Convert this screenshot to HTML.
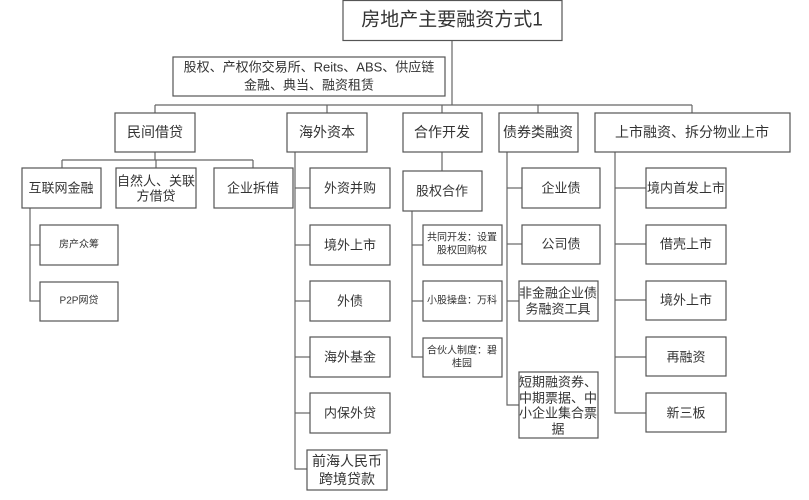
<!DOCTYPE html>
<html><head><meta charset="utf-8"><style>
html,body{margin:0;padding:0;background:#fff;}
svg{display:block;}
text{font-family:"Liberation Sans","Noto Sans CJK SC",sans-serif;fill:#333;text-anchor:middle;dominant-baseline:central;}
rect{fill:#fff;stroke:#555;stroke-width:1.2;}
line,polyline{stroke:#666;stroke-width:1.2;fill:none;}
</style></head><body>
<svg width="809" height="500" viewBox="0 0 809 500" xmlns="http://www.w3.org/2000/svg">
<!-- connectors -->
<line x1="452" y1="40" x2="452" y2="105"/>
<line x1="155" y1="105" x2="692" y2="105"/>
<line x1="155" y1="105" x2="155" y2="113"/>
<line x1="327" y1="105" x2="327" y2="113"/>
<line x1="442" y1="105" x2="442" y2="113"/>
<line x1="538" y1="105" x2="538" y2="113"/>
<line x1="692" y1="105" x2="692" y2="113"/>
<!-- 民间 -->
<line x1="155" y1="152" x2="155" y2="160"/>
<line x1="62" y1="160" x2="253" y2="160"/>
<line x1="62" y1="160" x2="62" y2="168"/>
<line x1="156" y1="160" x2="156" y2="168"/>
<line x1="253" y1="160" x2="253" y2="168"/>
<polyline points="30,208 30,301 40,301"/>
<line x1="30" y1="245" x2="40" y2="245"/>
<!-- 海外 -->
<polyline points="295,152 295,469 307,469"/>
<line x1="295" y1="188" x2="310" y2="188"/>
<line x1="295" y1="245" x2="310" y2="245"/>
<line x1="295" y1="301" x2="310" y2="301"/>
<line x1="295" y1="357" x2="310" y2="357"/>
<line x1="295" y1="413" x2="310" y2="413"/>
<!-- 合作 -->
<line x1="442" y1="152" x2="442" y2="171"/>
<polyline points="412,211 412,357 423,357"/>
<line x1="412" y1="245" x2="423" y2="245"/>
<line x1="412" y1="301" x2="423" y2="301"/>
<!-- 债券 -->
<polyline points="507,152 507,405 519,405"/>
<line x1="507" y1="188" x2="522" y2="188"/>
<line x1="507" y1="244" x2="522" y2="244"/>
<line x1="507" y1="301" x2="519" y2="301"/>
<!-- 上市 -->
<polyline points="615,152 615,413 646,413"/>
<line x1="615" y1="188" x2="646" y2="188"/>
<line x1="615" y1="244" x2="646" y2="244"/>
<line x1="615" y1="300" x2="646" y2="300"/>
<line x1="615" y1="357" x2="646" y2="357"/>

<!-- boxes -->
<rect x="343" y="0.5" width="219" height="40"/>
<text x="452" y="20" font-size="19">房地产主要融资方式1</text>
<rect x="173" y="57" width="272" height="39"/>
<text x="309" y="67" font-size="13">股权、产权你交易所、Reits、ABS、供应链</text>
<text x="309" y="85" font-size="13">金融、典当、融资租赁</text>

<rect x="115" y="113" width="80" height="39"/><text x="155" y="132" font-size="14">民间借贷</text>
<rect x="287" y="113" width="80" height="39"/><text x="327" y="132" font-size="14">海外资本</text>
<rect x="403" y="113" width="79" height="39"/><text x="442" y="132" font-size="14">合作开发</text>
<rect x="499" y="113" width="79" height="39"/><text x="538" y="132" font-size="14">债券类融资</text>
<rect x="595" y="113" width="195" height="39"/><text x="692" y="132" font-size="14">上市融资、拆分物业上市</text>

<rect x="22" y="168" width="79" height="40"/><text x="61" y="188" font-size="13">互联网金融</text>
<rect x="116" y="168" width="80" height="40"/><text x="156" y="181" font-size="13">自然人、关联</text><text x="156" y="196" font-size="13">方借贷</text>
<rect x="214" y="168" width="79" height="40"/><text x="253" y="188" font-size="13">企业拆借</text>
<rect x="40" y="225" width="78" height="40"/><text x="79" y="245" font-size="10">房产众筹</text>
<rect x="40" y="282" width="78" height="39"/><text x="79" y="301" font-size="10">P2P网贷</text>

<rect x="310" y="168" width="80" height="40"/><text x="350" y="188" font-size="13">外资并购</text>
<rect x="310" y="225" width="80" height="40"/><text x="350" y="245" font-size="13">境外上市</text>
<rect x="310" y="281" width="80" height="40"/><text x="350" y="301" font-size="13">外债</text>
<rect x="310" y="337" width="80" height="40"/><text x="350" y="357" font-size="13">海外基金</text>
<rect x="310" y="393" width="80" height="40"/><text x="350" y="413" font-size="13">内保外贷</text>
<rect x="307" y="450" width="80" height="40"/><text x="347" y="461" font-size="14">前海人民币</text><text x="347" y="479" font-size="14">跨境贷款</text>

<rect x="403" y="171" width="79" height="40"/><text x="442" y="191" font-size="13">股权合作</text>
<rect x="423" y="225" width="79" height="40"/><text x="462" y="238" font-size="10">共同开发：设置</text><text x="462" y="251" font-size="10">股权回购权</text>
<rect x="423" y="281" width="79" height="40"/><text x="462" y="301" font-size="10">小股操盘：万科</text>
<rect x="423" y="338" width="79" height="39"/><text x="462" y="351" font-size="10">合伙人制度：碧</text><text x="462" y="364" font-size="10">桂园</text>

<rect x="522" y="168" width="78" height="40"/><text x="561" y="188" font-size="13">企业债</text>
<rect x="522" y="225" width="78" height="39"/><text x="561" y="244" font-size="13">公司债</text>
<rect x="519" y="281" width="79" height="40"/><text x="558" y="293" font-size="13">非金融企业债</text><text x="558" y="309" font-size="13">务融资工具</text>
<rect x="519" y="372" width="79" height="66"/>
<text x="558" y="382" font-size="13">短期融资券、</text><text x="558" y="398" font-size="13">中期票据、中</text><text x="558" y="413" font-size="13">小企业集合票</text><text x="558" y="429" font-size="13">据</text>

<rect x="646" y="168" width="80" height="40"/><text x="686" y="188" font-size="13">境内首发上市</text>
<rect x="646" y="225" width="80" height="39"/><text x="686" y="244" font-size="13">借壳上市</text>
<rect x="646" y="281" width="80" height="39"/><text x="686" y="300" font-size="13">境外上市</text>
<rect x="646" y="337" width="80" height="39"/><text x="686" y="357" font-size="13">再融资</text>
<rect x="646" y="393" width="80" height="39"/><text x="686" y="413" font-size="13">新三板</text>
</svg>
</body></html>
